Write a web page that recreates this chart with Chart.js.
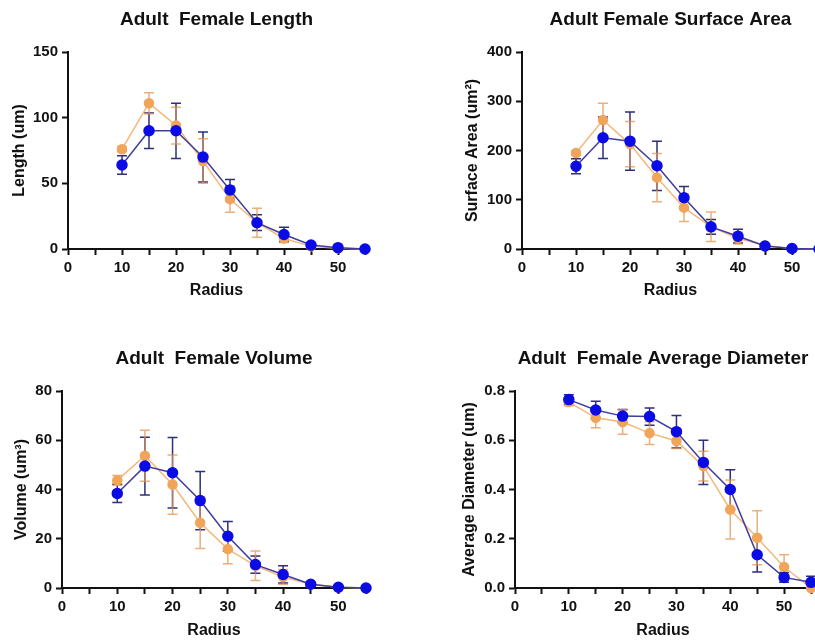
<!DOCTYPE html>
<html>
<head>
<meta charset="utf-8">
<script src="https://cdn.jsdelivr.net/npm/chart.js@4"></script>
<style>
  body { margin: 0; background: #fff; }
  #wrap { position: relative; width: 815px; height: 640px; overflow: hidden; background: #fff; }
  canvas { position: absolute; }
</style>
</head>
<body>
<div id="wrap">
  <canvas id="c-len" width="432" height="310" style="left:0;top:0"></canvas>
  <canvas id="c-sa" width="440" height="310" style="left:450px;top:0"></canvas>
  <canvas id="c-vol" width="420" height="320" style="left:0;top:320px"></canvas>
  <canvas id="c-dia" width="446" height="320" style="left:440px;top:320px"></canvas>
</div>
<script>
// ---------- DATA ----------
const radius = [10, 15, 20, 25, 30, 35, 40, 45, 50, 55];

const lenBlue = [64, 90, 90, 70, 45, 20, 11, 3, 1, 0];
const lenBlueErr = [7, 13.5, 21, 19, 8, 6, 5.5, 1, 0.5, 0];
const lenOrange = [76, 111, 94, 67, 38, 20, 8, 2, 0.5, 0];
const lenOrangeErr = [2, 8, 14, 17, 10, 11, 3, 1, 0.3, 0];

const saBlue = [168, 226, 219, 169, 104, 45, 26, 6, 1, 0];
const saBlueErr = [15, 42, 59, 50, 23, 15, 14, 3, 1, 0];
const saOrange = [195, 262, 213, 145, 84, 45, 22, 7, 1, 0];
const saOrangeErr = [4, 34, 46, 49, 28, 30, 12, 3, 1, 0];

const volBlue = [38.4, 49.5, 46.8, 35.5, 21, 9.5, 5.5, 1.5, 0.3, 0];
const volBlueErr = [3.7, 11.7, 14.3, 11.8, 6, 3.5, 3.5, 0.8, 0.2, 0];
const volOrange = [43.7, 53.7, 42, 26.5, 15.8, 9, 4.5, 1.5, 0.3, 0];
const volOrangeErr = [2, 10.4, 12, 10.5, 6, 6, 3, 0.8, 0.2, 0];

const diaBlue = [0.765, 0.723, 0.698, 0.696, 0.635, 0.51, 0.40, 0.135, 0.043, 0.023];
const diaBlueErr = [0.02, 0.035, 0.027, 0.035, 0.066, 0.09, 0.08, 0.07, 0.02, 0.025];
const diaOrange = [0.755, 0.691, 0.674, 0.629, 0.597, 0.495, 0.319, 0.204, 0.085, 0.0];
const diaOrangeErr = [0.015, 0.04, 0.05, 0.046, 0.03, 0.06, 0.12, 0.11, 0.05, 0.01];

// ---------- STYLE ----------
const FONT = "'Liberation Sans', Arial, sans-serif";
const BLUE = { line: "#3d3d9e", point: "#0b0be6", err: "#2f2f7a" };
const ORANGE = { line: "#f5b77a", point: "#f0a55a", err: "rgba(225,150,80,0.75)" };

// error bars drawn through the chart's own scales
const errorBars = {
  id: "errorBars",
  beforeDatasetsDraw(chart) {
    const ctx = chart.ctx, y = chart.scales.y;
    chart.data.datasets.forEach((ds, i) => {
      const meta = chart.getDatasetMeta(i);
      ctx.save();
      ctx.strokeStyle = ds.errColor;
      ctx.lineWidth = 1.5;
      meta.data.forEach((pt, j) => {
        const e = ds.errors[j];
        if (!e) return;
        const top = y.getPixelForValue(ds.data[j] + e);
        const bot = y.getPixelForValue(Math.max(0, ds.data[j] - e));
        ctx.beginPath();
        ctx.moveTo(pt.x, top); ctx.lineTo(pt.x, bot);
        ctx.moveTo(pt.x - 5, top); ctx.lineTo(pt.x + 5, top);
        ctx.moveTo(pt.x - 5, bot); ctx.lineTo(pt.x + 5, bot);
        ctx.stroke();
      });
      ctx.restore();
    });
  }
};

function series(data, errors, c, r) {
  return {
    data, errors, errColor: c.err,
    borderColor: c.line, borderWidth: 1.5,
    pointBackgroundColor: c.point, pointBorderColor: c.point,
    pointRadius: r, tension: 0, clip: false
  };
}

function makeChart(id, o) {
  new Chart(document.getElementById(id), {
    type: "line",
    data: {
      labels: radius,
      datasets: [
        series(o.blue, o.blueErr, BLUE, 5),
        series(o.orange, o.orangeErr, ORANGE, 4.5)
      ]
    },
    options: {
      responsive: false,
      animation: false,
      layout: { padding: { left: 0, right: o.padRight, top: 0, bottom: 0 } },
      plugins: {
        legend: { display: false },
        tooltip: { enabled: false },
        title: {
          display: true, text: o.title, color: "#111", fullSize: false,
          font: { family: FONT, size: 19, weight: "bold" },
          padding: { top: o.titleTop, bottom: o.titleBottom }
        }
      },
      scales: {
        x: {
          type: "linear", min: 0, max: 55,
          afterFit: s => { s.height = o.xH; },
          border: { color: "#111", width: 2 },
          grid: { drawOnChartArea: false, color: "#111", tickColor: "#111", tickWidth: 2, tickLength: 6 },
          ticks: {
            stepSize: 5, autoSkip: false, maxRotation: 0, padding: 4, color: "#111",
            font: { family: FONT, size: 15, weight: "bold" },
            callback: v => (v % 10 === 0 && v <= 50) ? String(v) : ""
          },
          title: {
            display: true, text: "Radius", color: "#111",
            font: { family: FONT, size: 16, weight: "bold" },
            padding: { top: 0, bottom: o.xTitleBottom }
          }
        },
        y: {
          min: 0, max: o.yMax,
          afterFit: s => { s.width = o.yW; },
          border: { color: "#111", width: 2 },
          grid: { drawOnChartArea: false, color: "#111", tickColor: "#111", tickWidth: 2, tickLength: 6 },
          ticks: {
            stepSize: o.yStep, padding: 4, color: "#111",
            font: { family: FONT, size: 15, weight: "bold" },
            callback: v => v.toFixed(o.decimals)
          },
          title: {
            display: true, text: o.yLabel, color: "#111",
            font: { family: FONT, size: 16, weight: "bold" },
            padding: { top: o.yTitleTop, bottom: 0 }
          }
        }
      }
    },
    plugins: [errorBars]
  });
}

// ---------- CHARTS ----------
makeChart("c-len", {
  title: "Adult  Female Length", yLabel: "Length (um)", yMax: 150, yStep: 50, decimals: 0,
  blue: lenBlue, blueErr: lenBlueErr, orange: lenOrange, orangeErr: lenOrangeErr,
  padRight: 67, yW: 68, xH: 61, titleTop: 8.6, titleBottom: 20.6, yTitleTop: 10.4, xTitleBottom: 9.4
});
makeChart("c-sa", {
  title: "Adult Female Surface Area", yLabel: "Surface Area (um\u00B2)", yMax: 400, yStep: 100, decimals: 0,
  blue: saBlue, blueErr: saBlueErr, orange: saOrange, orangeErr: saOrangeErr,
  padRight: 71, yW: 72, xH: 61, titleTop: 8.6, titleBottom: 20.6, yTitleTop: 13.4, xTitleBottom: 9.4
});
makeChart("c-vol", {
  title: "Adult  Female Volume", yLabel: "Volume (um\u00B3)", yMax: 80, yStep: 20, decimals: 0,
  blue: volBlue, blueErr: volBlueErr, orange: volOrange, orangeErr: volOrangeErr,
  padRight: 54, yW: 62, xH: 52, titleTop: 27.6, titleBottom: 20.6, yTitleTop: 12.4, xTitleBottom: 0
});
makeChart("c-dia", {
  title: "Adult  Female Average Diameter", yLabel: "Average Diameter (um)", yMax: 0.8, yStep: 0.2, decimals: 1,
  blue: diaBlue, blueErr: diaBlueErr, orange: diaOrange, orangeErr: diaOrangeErr,
  padRight: 75, yW: 75, xH: 52, titleTop: 27.6, titleBottom: 20.6, yTitleTop: 20.4, xTitleBottom: 0
});
</script>
</body>
</html>
